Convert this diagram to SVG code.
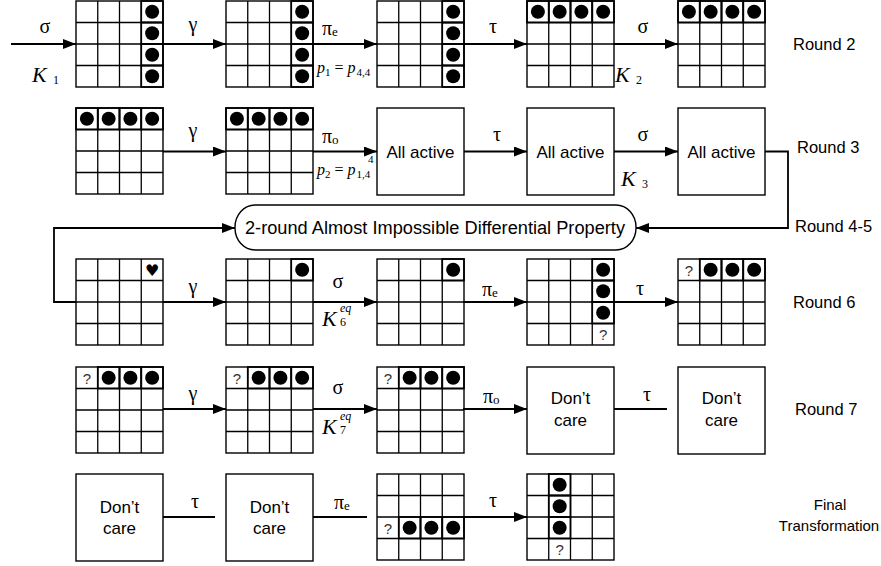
<svg xmlns="http://www.w3.org/2000/svg" xmlns:xlink="http://www.w3.org/1999/xlink" width="881" height="566" viewBox="0 0 881 566">
<style>
.ln{stroke:#000;stroke-width:1.4;fill:#fff}
.cn{stroke:#000;stroke-width:1.8;fill:none}
.gk{font-family:"Liberation Serif","Times New Roman",serif;font-size:20px;text-anchor:middle}
.mk{font-family:"Liberation Serif","Times New Roman",serif}
.it{font-style:italic}
.sn{font-family:"Liberation Sans",Arial,sans-serif}
.bx{font-family:"Liberation Sans",Arial,sans-serif;font-size:17px;text-anchor:middle}
.rl{font-family:"Liberation Sans",Arial,sans-serif;font-size:16.5px}
.ft{font-family:"Liberation Sans",Arial,sans-serif;font-size:15px;text-anchor:middle}
.q{font-family:"Liberation Sans",Arial,sans-serif;font-size:15px;text-anchor:middle;fill:#333}
</style>
<defs>
<marker id="ah" markerWidth="13" markerHeight="10" refX="13" refY="5" orient="auto" markerUnits="userSpaceOnUse"><path d="M0,0 L13,5 L0,10 z" fill="#000"/></marker>
<g id="grid"><rect class="ln" x="0" y="0" width="87" height="86"/><path d="M21.75 0V86M43.5 0V86M65.25 0V86M0 21.5H87M0 43H87M0 64.5H87" stroke="#000" stroke-width="1.3" fill="none"/></g>
<g id="dc"><rect x="0" y="0" width="21.75" height="21.5" fill="none" stroke="#000" stroke-width="1.7"/><circle cx="10.9" cy="10.75" r="7" fill="#000"/></g>
<g id="qc"><text class="q" x="10.9" y="16.5">?</text></g>
<rect id="box" class="ln" x="0" y="0" width="87" height="87"/>
</defs>
<rect width="881" height="566" fill="#fff"/>

<!-- Row 1 -->
<g id="n1" transform="translate(76,1)"><use href="#grid"/><use href="#dc" x="65.25" y="0"/><use href="#dc" x="65.25" y="21.5"/><use href="#dc" x="65.25" y="43"/><use href="#dc" x="65.25" y="64.5"/></g>
<g id="n2" transform="translate(226,1)"><use href="#grid"/><use href="#dc" x="65.25" y="0"/><use href="#dc" x="65.25" y="21.5"/><use href="#dc" x="65.25" y="43"/><use href="#dc" x="65.25" y="64.5"/></g>
<g id="n3" transform="translate(377,1)"><use href="#grid"/><use href="#dc" x="65.25" y="0"/><use href="#dc" x="65.25" y="21.5"/><use href="#dc" x="65.25" y="43"/><use href="#dc" x="65.25" y="64.5"/></g>
<g id="n4" transform="translate(527,1)"><use href="#grid"/><use href="#dc" x="0" y="0"/><use href="#dc" x="21.75" y="0"/><use href="#dc" x="43.5" y="0"/><use href="#dc" x="65.25" y="0"/></g>
<g id="n5" transform="translate(678,1)"><use href="#grid"/><use href="#dc" x="0" y="0"/><use href="#dc" x="21.75" y="0"/><use href="#dc" x="43.5" y="0"/><use href="#dc" x="65.25" y="0"/></g>

<!-- Row 2 -->
<g id="n6" transform="translate(76,108)"><use href="#grid"/><use href="#dc" x="0" y="0"/><use href="#dc" x="21.75" y="0"/><use href="#dc" x="43.5" y="0"/><use href="#dc" x="65.25" y="0"/></g>
<g id="n7" transform="translate(226,108)"><use href="#grid"/><use href="#dc" x="0" y="0"/><use href="#dc" x="21.75" y="0"/><use href="#dc" x="43.5" y="0"/><use href="#dc" x="65.25" y="0"/></g>
<g id="n8" transform="translate(377,108)"><use href="#box"/><text class="bx" x="43.5" y="49.5">All active</text></g>
<g id="n9" transform="translate(527,108)"><use href="#box"/><text class="bx" x="43.5" y="49.5">All active</text></g>
<g id="n10" transform="translate(678,108)"><use href="#box"/><text class="bx" x="43.5" y="49.5">All active</text></g>

<!-- Property -->
<g id="n11"><rect class="ln" x="235" y="205" width="401" height="45" rx="20" ry="22"/><text class="sn" x="245" y="234" font-size="18" textLength="380" lengthAdjust="spacingAndGlyphs">2-round Almost Impossible Differential  Property</text></g>

<!-- Row 3 -->
<g id="n12" transform="translate(76,259)"><use href="#grid"/><text x="76.1" y="17" font-family="DejaVu Sans,sans-serif" font-size="16" text-anchor="middle">♥</text></g>
<g id="n13" transform="translate(226,259)"><use href="#grid"/><use href="#dc" x="65.25" y="0"/></g>
<g id="n14" transform="translate(377,259)"><use href="#grid"/><use href="#dc" x="65.25" y="0"/></g>
<g id="n15" transform="translate(527,259)"><use href="#grid"/><use href="#dc" x="65.25" y="0"/><use href="#dc" x="65.25" y="21.5"/><use href="#dc" x="65.25" y="43"/><use href="#qc" x="65.25" y="64.5"/></g>
<g id="n16" transform="translate(678,259)"><use href="#grid"/><use href="#qc" x="0" y="0"/><use href="#dc" x="21.75" y="0"/><use href="#dc" x="43.5" y="0"/><use href="#dc" x="65.25" y="0"/></g>

<!-- Row 4 -->
<g id="n17" transform="translate(76,367)"><use href="#grid"/><use href="#qc" x="0" y="0"/><use href="#dc" x="21.75" y="0"/><use href="#dc" x="43.5" y="0"/><use href="#dc" x="65.25" y="0"/></g>
<g id="n18" transform="translate(226,367)"><use href="#grid"/><use href="#qc" x="0" y="0"/><use href="#dc" x="21.75" y="0"/><use href="#dc" x="43.5" y="0"/><use href="#dc" x="65.25" y="0"/></g>
<g id="n19" transform="translate(377,367)"><use href="#grid"/><use href="#qc" x="0" y="0"/><use href="#dc" x="21.75" y="0"/><use href="#dc" x="43.5" y="0"/><use href="#dc" x="65.25" y="0"/></g>
<g id="n20" transform="translate(527,367)"><use href="#box"/><text class="bx" x="43.5" y="37">Don’t</text><text class="bx" x="43.5" y="59">care</text></g>
<g id="n21" transform="translate(678,367)"><use href="#box"/><text class="bx" x="43.5" y="37">Don’t</text><text class="bx" x="43.5" y="59">care</text></g>

<!-- Row 5 -->
<g id="n22" transform="translate(76,474)"><use href="#box"/><text class="bx" x="43.5" y="39">Don’t</text><text class="bx" x="43.5" y="60">care</text></g>
<g id="n23" transform="translate(226,474)"><use href="#box"/><text class="bx" x="43.5" y="39">Don’t</text><text class="bx" x="43.5" y="60">care</text></g>
<g id="n24" transform="translate(377,474)"><use href="#grid"/><use href="#qc" x="0" y="43"/><use href="#dc" x="21.75" y="43"/><use href="#dc" x="43.5" y="43"/><use href="#dc" x="65.25" y="43"/></g>
<g id="n25" transform="translate(527,474)"><use href="#grid"/><use href="#dc" x="21.75" y="0"/><use href="#dc" x="21.75" y="21.5"/><use href="#dc" x="21.75" y="43"/><use href="#qc" x="21.75" y="64.5"/></g>

<!-- connectors -->
<g id="connectors" class="cn">
<path d="M11 44H76" marker-end="url(#ah)"/>
<path d="M163 44H226" marker-end="url(#ah)"/>
<path d="M313 44H377" marker-end="url(#ah)"/>
<path d="M463 44H527" marker-end="url(#ah)"/>
<path d="M613 44H678" marker-end="url(#ah)"/>
<path d="M163 151.5H226" marker-end="url(#ah)"/>
<path d="M313 151.5H377" marker-end="url(#ah)"/>
<path d="M464 151.5H527" marker-end="url(#ah)"/>
<path d="M614 151.5H678" marker-end="url(#ah)"/>
<path d="M765 151.5H788V228H636" marker-end="url(#ah)"/>
<path d="M76 302H54V228H235" marker-end="url(#ah)"/>
<path d="M163 302H226" marker-end="url(#ah)"/>
<path d="M313 302H377" marker-end="url(#ah)"/>
<path d="M463 302H527" marker-end="url(#ah)"/>
<path d="M613 302H678" marker-end="url(#ah)"/>
<path d="M163 409H226" marker-end="url(#ah)"/>
<path d="M313 409H377" marker-end="url(#ah)"/>
<path d="M463 409H527" marker-end="url(#ah)"/>
<path d="M614 409H667"/>
<path d="M163 517H215"/>
<path d="M313 517H367"/>
<path d="M463 517H527" marker-end="url(#ah)"/>
</g>

<!-- edge labels -->
<g id="labels">
<text class="gk" x="45" y="33">σ</text>
<text class="mk it" x="32" y="82" font-size="22">K</text><text class="mk" x="53" y="84" font-size="12">1</text>
<text class="gk" x="193" y="31">γ</text>
<text class="mk" x="322" y="35" font-size="20">π<tspan font-size="13" dy="1">e</tspan></text>
<text class="mk" x="317" y="73" font-size="16"><tspan class="it">p</tspan><tspan font-size="11" dy="3">1</tspan><tspan dy="-3"> = </tspan><tspan class="it">p</tspan><tspan font-size="11" dy="3" dx="1">4,4</tspan></text>
<text class="gk" x="493" y="33">τ</text>
<text class="gk" x="643" y="33">σ</text>
<text class="mk it" x="615" y="82" font-size="22">K</text><text class="mk" x="636" y="84" font-size="12">2</text>

<text class="gk" x="193" y="137">γ</text>
<text class="mk" x="322" y="143" font-size="20">π<tspan font-size="13" dy="1">o</tspan></text>
<text class="mk" x="317" y="175" font-size="16"><tspan class="it">p</tspan><tspan font-size="11" dy="3">2</tspan><tspan dy="-3"> = </tspan><tspan class="it">p</tspan><tspan font-size="11" dy="3" dx="1">1,4</tspan></text>
<text class="mk" x="368" y="163" font-size="11">4</text>
<text class="gk" x="497" y="141">τ</text>
<text class="gk" x="643" y="141">σ</text>
<text class="mk it" x="621" y="186" font-size="22">K</text><text class="mk" x="642" y="188" font-size="12">3</text>

<text class="gk" x="193" y="293">γ</text>
<text class="gk" x="338" y="288">σ</text>
<text class="mk it" x="322" y="326" font-size="22">K</text><text class="mk" x="340" y="326" font-size="12">6</text><text class="mk it" x="340" y="312" font-size="12">eq</text>
<text class="mk" x="482" y="296" font-size="20">π<tspan font-size="13" dy="1">e</tspan></text>
<text class="gk" x="640" y="295">τ</text>

<text class="gk" x="193" y="400">γ</text>
<text class="gk" x="338" y="394">σ</text>
<text class="mk it" x="322" y="434" font-size="22">K</text><text class="mk" x="340" y="434" font-size="12">7</text><text class="mk it" x="340" y="420" font-size="12">eq</text>
<text class="mk" x="483" y="403" font-size="20">π<tspan font-size="13" dy="1">o</tspan></text>
<text class="gk" x="647" y="401">τ</text>

<text class="gk" x="195" y="508">τ</text>
<text class="mk" x="334" y="509" font-size="20">π<tspan font-size="13" dy="1">e</tspan></text>
<text class="gk" x="493" y="507">τ</text>
</g>

<!-- round labels -->
<g id="rounds">
<text class="rl" x="793" y="50">Round 2</text>
<text class="rl" x="797" y="153">Round 3</text>
<text class="rl" x="795" y="232">Round 4-5</text>
<text class="rl" x="793" y="308">Round 6</text>
<text class="rl" x="795" y="415">Round 7</text>
<text class="ft" x="830" y="510">Final</text>
<text class="ft" x="829" y="531">Transformation</text>
</g>
</svg>
